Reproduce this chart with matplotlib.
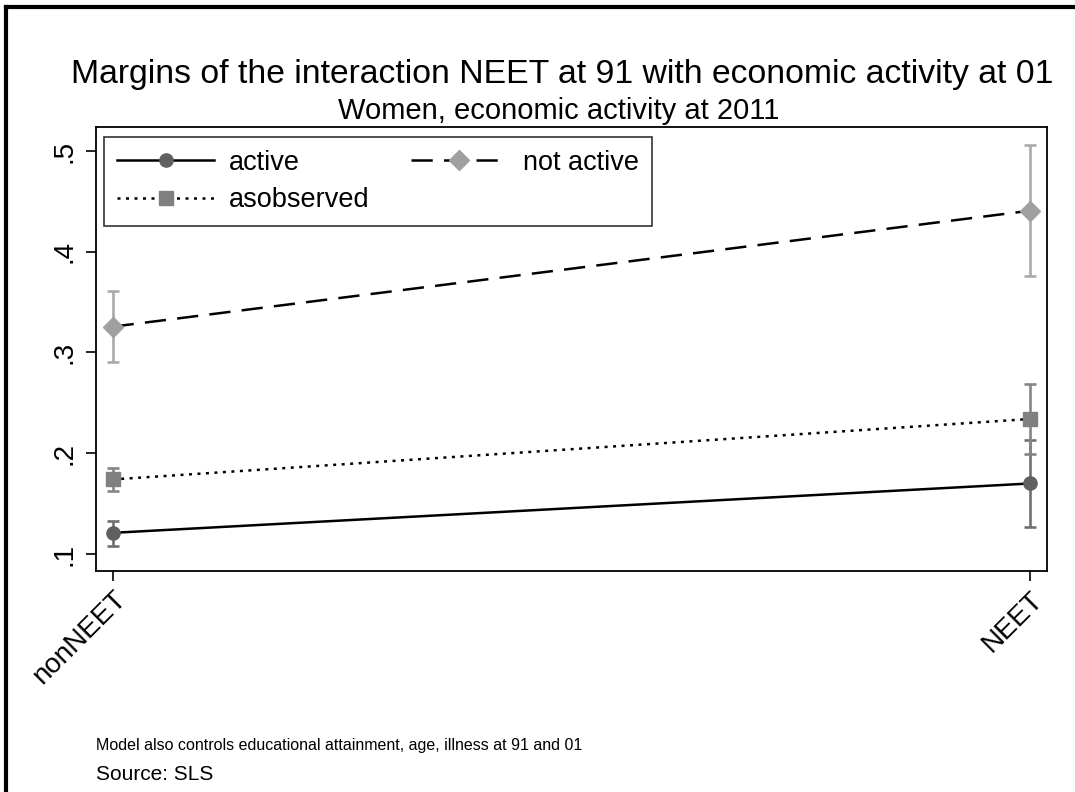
import matplotlib.pyplot as plt
from matplotlib.lines import Line2D

plt.rcParams['font.family'] = ['Liberation Sans', 'DejaVu Sans']

# data
groups = ['nonNEET', 'NEET']
active = [0.121, 0.170]
active_lo = [0.108, 0.1265]
active_hi = [0.133, 0.213]
notactive = [0.3256, 0.4407]
notactive_lo = [0.291, 0.3762]
notactive_hi = [0.3613, 0.5063]
asobs = [0.174, 0.234]
asobs_lo = [0.1625, 0.1996]
asobs_hi = [0.185, 0.2686]
yticks = [0.1, 0.2, 0.3, 0.4, 0.5]
ylabels = ['.1', '.2', '.3', '.4', '.5']

fig = plt.figure(figsize=(10.75, 7.92), dpi=100)
ax = fig.add_axes([0.089, 0.279, 0.8847, 0.5603])

x = list(range(len(groups)))

series = [
    (active, active_lo, active_hi, '-', 'o', '#606060', '#707070', 'active', 9.5),
    (notactive, notactive_lo, notactive_hi, (0, (8.5, 4.5)), 'D', '#a0a0a0', '#aaaaaa', 'not active', 10),
    (asobs, asobs_lo, asobs_hi, (0, (1.2, 2.2)), 's', '#808080', '#858585', 'asobserved', 9.5),
]

handles = {}
for vals, lo, hi, ls, mk, mc, ec, lab, ms in series:
    err = [[v - l for v, l in zip(vals, lo)], [h - v for v, h in zip(vals, hi)]]
    ax.errorbar(x, vals, yerr=err, fmt='none', ecolor=ec, elinewidth=1.9,
                capsize=4.6, capthick=1.9, zorder=2)
    ax.plot(x, vals, color='black', linestyle=ls, linewidth=1.8, zorder=3)
    ax.plot(x, vals, linestyle='none', marker=mk, markersize=ms,
            markerfacecolor=mc, markeredgecolor=mc, zorder=4)
    handles[lab] = Line2D([0], [0], color='black', linestyle=ls, linewidth=1.8,
                          marker=mk, markersize=ms, markerfacecolor=mc,
                          markeredgecolor=mc, label=lab)

ax.set_xlim(-0.0185, 1.0182)
ax.set_ylim(0.0831, 0.5235)
ax.set_xticks(x)
ax.set_xticklabels(groups, rotation=45, ha='right', rotation_mode='anchor', fontsize=20)
ax.set_yticks(yticks)
ax.set_yticklabels(ylabels, rotation=90, va='center', fontsize=20)
ax.tick_params(axis='both', direction='out', length=7, width=1.2, colors='black')
ax.tick_params(axis='y', pad=6)
ax.tick_params(axis='x', pad=4)
for sp in ax.spines.values():
    sp.set_linewidth(1.3)
    sp.set_color('black')

leg = ax.legend(handles=[handles['active'], handles['asobserved'], handles['not active']],
                ncol=2, loc='upper left', bbox_to_anchor=(0.0087, 0.9788),
                borderaxespad=0, fontsize=19.5, handlelength=3.6, handletextpad=0.55,
                columnspacing=1.5, labelspacing=0.42, fancybox=False,
                edgecolor='#333333', framealpha=1, borderpad=0.48)
leg.get_frame().set_linewidth(1.2)

fig.text(0.523, 1 - 83 / 792, 'Margins of the interaction NEET at 91 with economic activity at 01',
         ha='center', va='baseline', fontsize=24.3)
fig.text(0.52, 1 - 119 / 792, 'Women, economic activity at 2011',
         ha='center', va='baseline', fontsize=21)
fig.text(0.089, 0.059, 'Model also controls educational attainment, age, illness at 91 and 01',
         ha='left', va='center', fontsize=11.5)
fig.text(0.089, 0.0215, 'Source: SLS', ha='left', va='center', fontsize=15)

# outer frame (left and top edges visible)
fig.add_artist(Line2D([6 / 1075, 6 / 1075], [0, 1 - 7 / 792], color='black',
                      linewidth=3, transform=fig.transFigure))
fig.add_artist(Line2D([6 / 1075, 1], [1 - 7 / 792, 1 - 7 / 792], color='black',
                      linewidth=3, transform=fig.transFigure))

fig.savefig('out.png', dpi=100)
